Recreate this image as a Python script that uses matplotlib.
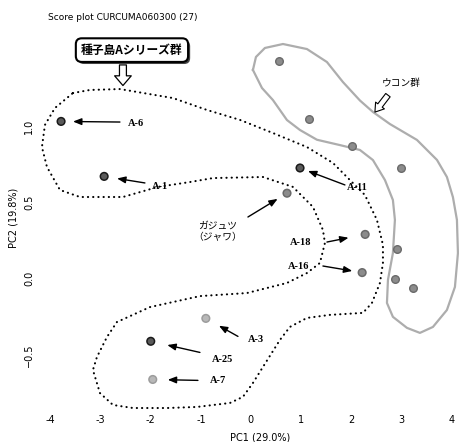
import matplotlib
matplotlib.use('Agg')
import matplotlib.pyplot as plt
from matplotlib.patches import FancyArrowPatch
import matplotlib.patheffects as pe

plt.rcParams['font.family'] = ['DejaVu Sans']
CJK = ['Noto Sans CJK JP', 'DejaVu Sans']
SERIF = ['Liberation Serif', 'DejaVu Serif']

# ---------------- data ----------------
title = "Score plot CURCUMA060300 (27)"
x_label = "PC1 (29.0%)"
y_label = "PC2 (19.8%)"
x_ticks = [-4, -3, -2, -1, 0, 1, 2, 3, 4]
y_ticks = [-0.5, 0.0, 0.5, 1.0]
y_tick_labels = ["\u22120.5", "0.0", "0.5", "1.0"]

# labelled samples
sample_names = ["A-6", "A-1", "A-11", "ガジュツ\n（ジャワ）", "A-18", "A-16", "A-3", "A-25", "A-7"]
sample_pc1 = [-3.79, -2.93, 0.98, 0.72, 2.28, 2.22, -0.90, -2.00, -1.96]
sample_pc2 = [1.03, 0.67, 0.725, 0.56, 0.29, 0.04, -0.26, -0.41, -0.66]
sample_shade = ["dark", "dark", "dark", "mid", "mid", "mid", "light", "dark", "light"]

# ウコン群 samples
ukon_pc1 = [0.56, 1.16, 2.02, 2.99, 2.91, 2.87, 3.23]
ukon_pc2 = [1.425, 1.045, 0.87, 0.725, 0.195, 0.0, -0.06]

# label text anchors (left / centre) and arrow tails
label_x = [-2.455, -1.976, 1.916, -0.659, 0.778, 0.739, -0.060, -0.778, -0.818]
label_y = [1.019, 0.601, 0.594, 0.311, 0.234, 0.077, -0.401, -0.532, -0.670]
tail_x = [-2.615, -2.116, 1.876, -0.060, 1.517, 1.437, -0.259, -1.018, -1.058]
tail_y = [1.026, 0.627, 0.614, 0.404, 0.240, 0.083, -0.378, -0.483, -0.666]
gap_pt = [8.6, 9.4, 6.1, 7.9, 12.2, 7.2, 10.8, 12.2, 10.8]

# 種子島Aシリーズ群 outline (dotted)
groupA_x = [-3.553, -3.214, -2.615, -1.557, -0.878, -0.220, 0.439, 1.118, 1.637, 1.976,
            2.275, 2.515, 2.635, 2.635, 2.575, 2.415, 2.236, 1.577, 1.118, 0.778,
            0.579, 0.240, 0.040, -0.160, -0.419, -1.078, -1.677, -2.355, -2.754, -3.014,
            -3.154, -3.074, -2.874, -2.675, -2.016, -1.018, -0.080, 0.719, 1.118, 1.377,
            1.477, 1.437, 1.238, 0.838, 0.240, -0.758, -1.218, -1.856, -2.555, -3.413,
            -3.812, -4.072, -4.172, -4.112, -3.912, -3.553]
groupA_y = [1.216, 1.236, 1.242, 1.183, 1.105, 1.040, 0.954, 0.862, 0.758, 0.646,
            0.548, 0.385, 0.221, 0.103, -0.028, -0.159, -0.224, -0.237, -0.257, -0.316,
            -0.401, -0.578, -0.683, -0.774, -0.814, -0.840, -0.847, -0.847, -0.827, -0.749,
            -0.598, -0.513, -0.382, -0.284, -0.186, -0.114, -0.094, -0.028, 0.037, 0.103,
            0.234, 0.319, 0.470, 0.601, 0.666, 0.659, 0.633, 0.601, 0.535, 0.535,
            0.581, 0.732, 0.862, 1.007, 1.118, 1.216]

# ウコン群 outline (grey)
ukon_x = [0.040, 0.100, 0.279, 0.639, 1.118, 1.517, 1.836, 2.176, 2.435, 2.774,
          3.313, 3.713, 3.912, 4.032, 4.112, 4.132, 4.072, 3.912, 3.633, 3.373,
          3.114, 2.834, 2.715, 2.735, 2.834, 2.874, 2.834, 2.675, 2.435, 2.176,
          1.776, 1.317, 0.978, 0.719, 0.439, 0.220, 0.040]
ukon_y = [1.367, 1.452, 1.511, 1.537, 1.504, 1.419, 1.288, 1.167, 1.092, 1.013,
          0.909, 0.778, 0.666, 0.534, 0.385, 0.168, -0.054, -0.205, -0.316, -0.355,
          -0.322, -0.250, -0.159, -0.008, 0.168, 0.385, 0.515, 0.646, 0.777, 0.843,
          0.875, 0.910, 0.974, 1.039, 1.170, 1.249, 1.367]

groupA_title = "種子島Aシリーズ群"
groupA_title_pos = (-2.375, 1.497)
groupA_arrow = ((-2.555, 1.40), (-2.555, 1.265))
ukon_title = "ウコン群"
ukon_title_pos = (2.615, 1.281)
ukon_arrow = ((2.735, 1.202), (2.475, 1.091))

# ---------------- drawing ----------------
fig = plt.figure(figsize=(4.6, 4.42), dpi=100)
ax = fig.add_axes([0.0783, 0.0724, 0.917, 0.846])
ax.set_xlim(-4.29, 4.13)
ax.set_ylim(-0.86, 1.589)
for s in ax.spines.values():
    s.set_visible(False)
ax.set_xticks(x_ticks)
ax.set_xticklabels([str(t) for t in x_ticks])
ax.set_yticks(y_ticks)
ax.set_yticklabels(y_tick_labels, rotation=90, va='center')
ax.tick_params(axis='x', length=0, labelsize=7, pad=3.6)
ax.tick_params(axis='y', length=0, labelsize=7, pad=1.5)

shade_fc = {"dark": "#5a5a5a", "mid": "#8c8c8c", "light": "#b8b8b8"}
shade_ec = {"dark": "#1a1a1a", "mid": "#6a6a6a", "light": "#9c9c9c"}

# outlines
ax.plot(groupA_x, groupA_y, color='black', lw=1.5, linestyle=(0, (0.1, 2.4)),
        dash_capstyle='round', solid_capstyle='round', clip_on=False, zorder=2)
ax.plot(ukon_x, ukon_y, color='#adadad', lw=1.6, clip_on=False, zorder=2)

# points
ax.scatter(ukon_pc1, ukon_pc2, s=30, c=shade_fc["mid"], edgecolors=shade_ec["mid"],
           linewidths=1, zorder=3)
ax.scatter(sample_pc1, sample_pc2, s=30,
           c=[shade_fc[k] for k in sample_shade],
           edgecolors=[shade_ec[k] for k in sample_shade], linewidths=1.1, zorder=3)

# labels + arrows
for i, name in enumerate(sample_names):
    ax.annotate('', xy=(sample_pc1[i], sample_pc2[i]), xytext=(tail_x[i], tail_y[i]),
                arrowprops=dict(arrowstyle='-|>,head_length=0.5,head_width=0.2',
                                lw=1.0, color='black', shrinkA=0, shrinkB=gap_pt[i],
                                mutation_scale=10), zorder=4)
    if "\n" in name:
        ax.text(label_x[i], label_y[i], name, family=CJK, fontsize=7, ha='center',
                va='center', linespacing=1.25)
    else:
        ax.text(label_x[i], label_y[i], name, family=SERIF, fontsize=7.5,
                fontweight='bold', ha='left', va='center')

# group titles
t = ax.text(*groupA_title_pos, groupA_title, family=CJK, fontsize=8.5, fontweight='bold',
            ha='center', va='center', color='black', zorder=5,
            bbox=dict(boxstyle='round,pad=0.45,rounding_size=0.5', fc='white', ec='black', lw=1.5))
t.get_bbox_patch().set_path_effects([
    pe.SimplePatchShadow(offset=(1.5, -1.5), shadow_rgbFace='#444444', alpha=1.0),
    pe.Normal()])
ax.add_patch(FancyArrowPatch(groupA_arrow[0], groupA_arrow[1],
                             arrowstyle='simple,head_length=7,head_width=12,tail_width=5',
                             mutation_scale=1, fc='white', ec='black', lw=0.9,
                             shrinkA=0, shrinkB=0, clip_on=False, zorder=4))

ax.text(*ukon_title_pos, ukon_title, family=CJK, fontsize=7, ha='left', va='center')
ax.add_patch(FancyArrowPatch(ukon_arrow[0], ukon_arrow[1],
                             arrowstyle='simple,head_length=6,head_width=8,tail_width=4',
                             mutation_scale=1, fc='white', ec='black', lw=0.8,
                             shrinkA=0, shrinkB=0, clip_on=False, zorder=4))

fig.text(48 / 460, 1 - 18 / 442, title, fontsize=6.5, ha='left', va='center')
fig.text(260 / 460, 1 - 437 / 442, x_label, fontsize=7, ha='center', va='center')
fig.text(14 / 460, 1 - 218 / 442, y_label, fontsize=7, ha='center', va='center', rotation=90)

fig.savefig('out.png', dpi=100)
